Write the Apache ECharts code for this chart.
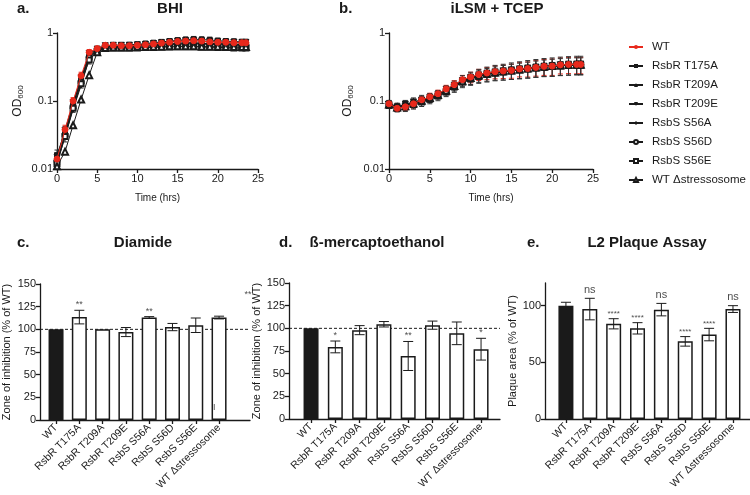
<!DOCTYPE html>
<html>
<head>
<meta charset="utf-8">
<script src="https://cdn.jsdelivr.net/npm/echarts@6/dist/echarts.min.js"></script>
<style>
  html, body { margin: 0; padding: 0; background: #fff; }
  #main { width: 750px; height: 495px; }
</style>
</head>
<body>
<div id="main"></div>
<script>
// strains, same order in every panel
const strains = ['WT', 'RsbR T175A', 'RsbR T209A', 'RsbR T209E', 'RsbS S56A', 'RsbS S56D', 'RsbS S56E', 'WT Δstressosome'];

// sampling times (hrs)
const time = [0,1,2,3,4,5,6,7,8,9,10,11,12,13,14,15,16,17,18,19,20,21,22,23,23.5];

// a. BHI growth, OD600
const bhiWT    = [0.014,0.038,0.10,0.235,0.52, 0.59,0.66,0.66,0.65,0.65, 0.66,0.67,0.69,0.71,0.73, 0.75,0.76,0.77,0.76,0.74, 0.73,0.73,0.72,0.72,0.72];
const bhiT175A = [0.016,0.036,0.09,0.21,0.47, 0.58,0.65,0.66,0.66,0.67, 0.68,0.70,0.72,0.74,0.76, 0.78,0.80,0.81,0.80,0.79, 0.77,0.76,0.75,0.74,0.74];
const bhiT209A = [0.013,0.033,0.085,0.20,0.45, 0.57,0.64,0.65,0.65,0.65, 0.66,0.67,0.68,0.69,0.70, 0.71,0.72,0.72,0.71,0.70, 0.70,0.69,0.69,0.68,0.68];
const bhiT209E = [0.015,0.037,0.095,0.22,0.50, 0.58,0.65,0.66,0.66,0.66, 0.67,0.68,0.70,0.72,0.74, 0.76,0.77,0.77,0.76,0.75, 0.74,0.73,0.73,0.72,0.72];
const bhiS56A  = [0.012,0.030,0.075,0.17,0.42, 0.56,0.63,0.64,0.64,0.64, 0.65,0.66,0.67,0.68,0.69, 0.70,0.71,0.71,0.70,0.70, 0.69,0.69,0.68,0.68,0.68];
const bhiS56D  = [0.013,0.032,0.08,0.19,0.44, 0.56,0.63,0.63,0.63,0.63, 0.64,0.64,0.65,0.66,0.67, 0.68,0.69,0.69,0.69,0.68, 0.67,0.67,0.66,0.66,0.66];
const bhiS56E  = [0.012,0.030,0.078,0.18,0.40, 0.54,0.60,0.60,0.60,0.60, 0.60,0.61,0.61,0.62,0.62, 0.63,0.63,0.63,0.62,0.62, 0.61,0.61,0.60,0.60,0.60];
const bhiDelta = [0.011,0.018,0.044,0.105,0.24, 0.52,0.60,0.61,0.61,0.61, 0.62,0.62,0.63,0.63,0.64, 0.64,0.64,0.64,0.63,0.63, 0.63,0.62,0.62,0.62,0.62];
// SD for the curves whose bars show
const bhiErrWT    = [0.002,0.006,0.012,0.03,0.05, 0.03,0.03,0.03,0.03,0.03, 0.03,0.03,0.04,0.04,0.04, 0.05,0.05,0.05,0.05,0.05, 0.05,0.05,0.05,0.05,0.05];
const bhiErrT175A = [0.003,0.006,0.015,0.035,0.06, 0.03,0.03,0.03,0.03,0.04, 0.04,0.04,0.05,0.06,0.06, 0.07,0.07,0.08,0.08,0.08, 0.07,0.07,0.07,0.07,0.07];
const bhiErrS56E  = [0.002,0.005,0.01,0.025,0.05, 0.03,0.03,0.03,0.03,0.03, 0.03,0.03,0.03,0.03,0.04, 0.04,0.04,0.04,0.04,0.04, 0.04,0.04,0.04,0.04,0.04];

// b. iLSM + TCEP growth, OD600
const tcepWT    = [0.091,0.078,0.082,0.091,0.104, 0.115,0.128,0.150,0.174,0.206, 0.225,0.246,0.258,0.270,0.276, 0.282,0.296,0.300,0.312,0.323, 0.326,0.340,0.345,0.345,0.345];
const tcepT175A = [0.092,0.083,0.088,0.095,0.105, 0.112,0.125,0.145,0.168,0.200, 0.220,0.240,0.255,0.268,0.275, 0.285,0.295,0.305,0.315,0.325, 0.330,0.340,0.345,0.350,0.350];
const tcepT209A = [0.088,0.080,0.085,0.093,0.100, 0.110,0.122,0.140,0.165,0.195, 0.215,0.235,0.250,0.260,0.270, 0.280,0.290,0.300,0.310,0.320, 0.325,0.335,0.340,0.340,0.340];
const tcepT209E = [0.090,0.082,0.090,0.097,0.103, 0.113,0.126,0.147,0.170,0.200, 0.222,0.242,0.257,0.268,0.278, 0.287,0.297,0.306,0.316,0.325, 0.333,0.342,0.348,0.350,0.350];
const tcepS56A  = [0.089,0.081,0.086,0.094,0.101, 0.111,0.124,0.143,0.166,0.197, 0.218,0.238,0.252,0.264,0.274, 0.283,0.292,0.301,0.311,0.320, 0.328,0.336,0.342,0.344,0.344];
const tcepS56D  = [0.087,0.079,0.083,0.090,0.099, 0.108,0.120,0.138,0.162,0.192, 0.213,0.233,0.248,0.260,0.270, 0.279,0.288,0.297,0.307,0.316, 0.323,0.330,0.336,0.338,0.338];
const tcepS56E  = [0.086,0.078,0.082,0.089,0.097, 0.106,0.118,0.136,0.160,0.190, 0.210,0.230,0.245,0.258,0.268, 0.277,0.286,0.295,0.305,0.314, 0.321,0.328,0.333,0.336,0.336];
const tcepDelta = [0.089,0.080,0.084,0.092,0.101, 0.111,0.123,0.142,0.166,0.196, 0.217,0.237,0.251,0.263,0.273, 0.282,0.291,0.300,0.310,0.319, 0.326,0.334,0.340,0.342,0.342];
const tcepErrWT    = [0.008,0.008,0.010,0.012,0.014, 0.015,0.016,0.020,0.025,0.032, 0.040,0.046,0.052,0.058,0.062, 0.066,0.070,0.075,0.080,0.085, 0.088,0.090,0.092,0.094,0.094];
const tcepErrT175A = [0.010,0.010,0.014,0.016,0.016, 0.017,0.018,0.022,0.028,0.036, 0.045,0.052,0.060,0.066,0.072, 0.078,0.082,0.088,0.092,0.096, 0.100,0.102,0.104,0.105,0.105];
const tcepErrS56E  = [0.008,0.009,0.012,0.013,0.014, 0.015,0.017,0.020,0.026,0.033, 0.040,0.048,0.055,0.060,0.065, 0.070,0.074,0.078,0.082,0.086, 0.090,0.092,0.094,0.095,0.095];

// c. Diamide, zone of inhibition (% of WT)
const diamideMean = [100, 113.5, 100, 97, 113, 102.5, 104.5, 113];
const diamideErr  = [0, 7.5, 0, 5, 1, 4, 8, 1.5];
const diamideSig  = ['', '**', '', '', '**', '', '', ''];

// d. ß-mercaptoethanol, zone of inhibition (% of WT)
const bmeMean = [100, 79.5, 98, 104.5, 69.5, 103.5, 94.5, 77];
const bmeErr  = [0, 6.5, 5, 3, 16, 4.5, 12.5, 12];
const bmeSig  = ['', '*', '', '', '**', '', '', '*'];

// e. L2 plaque assay, plaque area (% of WT)
const plaqueMean = [100, 97, 84, 80, 96.5, 68.5, 74.5, 97];
const plaqueErr  = [3, 9.5, 4.5, 5, 5.5, 4.2, 5.5, 3];
const plaqueSig  = ['', 'ns', '****', '****', 'ns', '****', '****', 'ns'];

const FONT = '"Liberation Sans", Arial, Helvetica, sans-serif';
const INK = '#1a1a1a';
const RED = '#e8291c';
const triDown = 'path://M0,0L10,0L5,9Z';
const symbols = ['circle', 'rect', 'triangle', triDown, 'diamond', 'emptyCircle', 'emptyRect', 'emptyTriangle'];
const symbolSizes = [6, 5, 6, 6, 5, 5, 5, 6];

const chart = echarts.init(document.getElementById('main'));

function errorBars(capHalf, color) {
    return function (params, api) {
        const lo = api.value(1), hi = api.value(2);
        if (hi === lo) return null;
        const top = api.coord([api.value(0), hi]);
        const bot = api.coord([api.value(0), lo]);
        const st = { stroke: color, lineWidth: 1 };
        return {
            type: 'group',
            children: [
                { type: 'line', shape: { x1: top[0], y1: top[1], x2: bot[0], y2: bot[1] }, style: st },
                { type: 'line', shape: { x1: top[0] - capHalf, y1: top[1], x2: top[0] + capHalf, y2: top[1] }, style: st },
                { type: 'line', shape: { x1: bot[0] - capHalf, y1: bot[1], x2: bot[0] + capHalf, y2: bot[1] }, style: st }
            ]
        };
    };
}

// growth curve panel: one line per strain + some error bars
function growthPanel(idx, sets, errs) {
    const out = [];
    errs.forEach(([si, err]) => {
        out.push({
            type: 'custom', xAxisIndex: idx, yAxisIndex: idx, silent: true, z: 1,
            renderItem: errorBars(2.5, si === 0 ? RED : '#333'),
            encode: { x: 0, y: [1, 2] },
            data: time.map((t, k) => [t, sets[si][k] - err[k], sets[si][k] + err[k]])
        });
    });
    sets.forEach((vals, i) => {
        const col = i === 0 ? RED : INK;
        out.push({
            name: strains[i], type: 'line', xAxisIndex: idx, yAxisIndex: idx,
            data: time.map((t, k) => [t, vals[k]]),
            symbol: symbols[i], symbolSize: symbolSizes[i],
            lineStyle: { color: col, width: 1 },
            itemStyle: { color: col, borderColor: col },
            z: i === 0 ? 6 : 3
        });
    });
    return out;
}

// bar panel: bars + error bars + significance marks
function barPanel(idx, means, errs, sigs, sigSize) {
    return [
        {
            type: 'bar', xAxisIndex: idx, yAxisIndex: idx, barWidth: 15,
            data: means.map((v, i) => ({ value: v, itemStyle: { color: i === 0 ? INK : '#fff' } })),
            itemStyle: { borderColor: INK, borderWidth: 1.5 }, z: 2
        },
        {
            type: 'custom', xAxisIndex: idx, yAxisIndex: idx, silent: true, z: 4,
            renderItem: errorBars(5, INK), encode: { x: 0, y: [1, 2] },
            data: means.map((v, i) => [i, v - errs[i], v + errs[i]])
        },
        {
            type: 'scatter', xAxisIndex: idx, yAxisIndex: idx, symbolSize: 0, silent: true, z: 5,
            data: means.map((v, i) => ({ value: [i, v + errs[i]], sig: sigs[i] }))
                .filter(d => d.sig)
                .map(d => ({
                    value: d.value,
                    label: { show: true, position: 'top', distance: d.sig === 'ns' ? 3 : 1, formatter: d.sig,
                        fontSize: d.sig === 'ns' ? 11 : sigSize, color: INK, fontFamily: FONT }
                }))
        }
    ];
}

const axisLine = { show: true, lineStyle: { color: INK, width: 1.3 } };
const axisTick = { show: true, length: 4, lineStyle: { color: INK, width: 1.3 } };
const tickLabel = { fontSize: 11, color: INK, fontFamily: FONT, margin: 4 };

function logY(idx, gap) {
    return {
        gridIndex: idx, type: 'log', logBase: 10, min: 0.01, max: 1,
        axisLine, axisTick, splitLine: { show: false }, minorTick: { show: false },
        axisLabel: Object.assign({}, tickLabel, { formatter: v => (v >= 1 ? '1' : String(+v.toPrecision(1))) }),
        name: 'OD{s|600}', nameLocation: 'middle', nameGap: gap,
        nameTextStyle: { fontSize: 12, color: INK, fontFamily: FONT,
            rich: { s: { fontSize: 8, color: INK, fontFamily: FONT, padding: [7, 0, 0, 0] } } }
    };
}
function timeX(idx) {
    return {
        gridIndex: idx, type: 'value', min: 0, max: 25, interval: 5,
        axisLine, axisTick, splitLine: { show: false }, axisLabel: tickLabel,
        name: 'Time (hrs)', nameLocation: 'middle', nameGap: 24,
        nameTextStyle: { fontSize: 10, color: INK, fontFamily: FONT }
    };
}
function frameX(idx) {
    return { gridIndex: idx, type: 'value', min: 0, max: 1, axisLine, axisTick: { show: false },
        axisLabel: { show: false }, splitLine: { show: false } };
}
function frameY(idx, max, interval, name, gap, ticks) {
    const y = { gridIndex: idx, type: 'value', min: 0, max, interval, axisLine, axisTick,
        axisLabel: tickLabel, splitLine: { show: false },
        name, nameLocation: 'middle', nameGap: gap, nameTextStyle: { fontSize: 11, color: INK, fontFamily: FONT } };
    if (ticks) {
        y.axisTick = Object.assign({}, axisTick, { customValues: ticks });
        y.axisLabel = Object.assign({}, tickLabel, { customValues: ticks });
    }
    return y;
}
function catX(idx) {
    return { gridIndex: idx, type: 'category', data: strains, axisLine: { show: false },
        axisTick: Object.assign({}, axisTick, { alignWithLabel: true }),
        axisLabel: { rotate: 45, fontSize: 10.5, color: INK, fontFamily: FONT, margin: 6, interval: 0 } };
}
function hiddenY(idx, max) {
    return { gridIndex: idx, type: 'value', min: 0, max, show: false };
}
function refLine(idx) {
    return { type: 'line', xAxisIndex: idx, yAxisIndex: idx, data: [[0, 100], [1, 100]], symbol: 'none', silent: true,
        lineStyle: { color: INK, width: 1, type: [3, 2] }, z: 1 };
}

function heading(x, y, text, align) {
    return { type: 'text', x, y, silent: true,
        style: { text, align, verticalAlign: 'middle', fontSize: 15, fontWeight: 'bold', fontFamily: FONT, fill: INK } };
}

const bhiSets = [bhiWT, bhiT175A, bhiT209A, bhiT209E, bhiS56A, bhiS56D, bhiS56E, bhiDelta];
const tcepSets = [tcepWT, tcepT175A, tcepT209A, tcepT209E, tcepS56A, tcepS56D, tcepS56E, tcepDelta];

const option = {
    backgroundColor: '#fff',
    animation: false,
    textStyle: { fontFamily: FONT },
    grid: [
        { left: 57, top: 33, width: 201, height: 136 },
        { left: 389, top: 33, width: 204, height: 136 },
        { left: 39, top: 284, width: 211, height: 136 },
        { left: 44.4, top: 284, width: 186.3, height: 136 },
        { left: 289, top: 283, width: 211, height: 136 },
        { left: 298.9, top: 283, width: 194.3, height: 136 },
        { left: 545, top: 283, width: 205, height: 136 },
        { left: 554, top: 283, width: 190.9, height: 136 }
    ],
    xAxis: [timeX(0), timeX(1), frameX(2), catX(3), frameX(4), catX(5), frameX(6), catX(7)],
    yAxis: [
        logY(0, 32), logY(1, 34),
        frameY(2, 150, 25, 'Zone of inhibition (% of WT)', 28),
        hiddenY(3, 150),
        frameY(4, 150, 25, 'Zone of inhibition (% of WT)', 25),
        hiddenY(5, 150),
        frameY(6, 120, 50, 'Plaque area (% of WT)', 22, [0, 50, 100]),
        hiddenY(7, 120)
    ],
    legend: {
        data: strains, orient: 'vertical', left: 623, top: 35,
        itemWidth: 14, itemHeight: 5, itemGap: 5,
        textStyle: { fontSize: 11.5, color: INK, fontFamily: FONT, lineHeight: 14, padding: [0, 0, 0, 4] }
    },
    graphic: [
        heading(17, 9, 'a.', 'left'),
        heading(170, 9, 'BHI', 'center'),
        heading(339, 9, 'b.', 'left'),
        heading(497, 9, 'iLSM + TCEP', 'center'),
        heading(17, 243, 'c.', 'left'),
        heading(143, 243, 'Diamide', 'center'),
        heading(279, 243, 'd.', 'left'),
        heading(377, 243, 'ß-mercaptoethanol', 'center'),
        heading(527, 243, 'e.', 'left'),
        heading(647, 243, 'L2 Plaque Assay', 'center')
    ],
    series: [].concat(
        growthPanel(0, bhiSets, [[0, bhiErrWT], [1, bhiErrT175A], [6, bhiErrS56E]]),
        growthPanel(1, tcepSets, [[0, tcepErrWT], [1, tcepErrT175A], [6, tcepErrS56E]]),
        [refLine(2)],
        // stray marks printed in the Diamide panel
        [{
            type: 'scatter', xAxisIndex: 2, yAxisIndex: 2, symbolSize: 0, silent: true,
            data: [
                { value: [0.99, 138], label: { show: true, position: 'inside', formatter: '**', fontSize: 9, color: INK } },
                { value: [0.83, 14], label: { show: true, position: 'inside', formatter: 'I', fontSize: 9, color: INK } }
            ]
        }],
        barPanel(3, diamideMean, diamideErr, diamideSig, 9),
        [refLine(4)],
        barPanel(5, bmeMean, bmeErr, bmeSig, 9),
        barPanel(7, plaqueMean, plaqueErr, plaqueSig, 8)
    )
};

chart.setOption(option);
</script>
</body>
</html>
